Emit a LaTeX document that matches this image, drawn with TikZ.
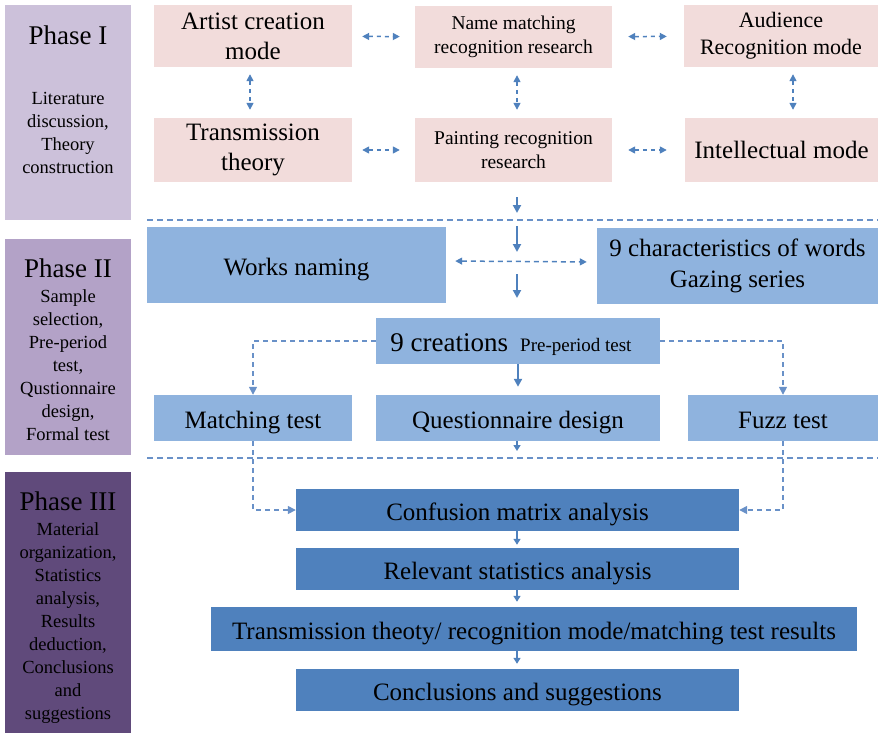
\documentclass[tikz,border=0pt]{standalone}
\usepackage{fontspec}
\setmainfont{Liberation Serif}
\usetikzlibrary{arrows.meta}

\definecolor{phaseone}{RGB}{204,193,218}
\definecolor{phasetwo}{RGB}{179,162,199}
\definecolor{phasethree}{RGB}{96,74,123}
\definecolor{boxpink}{RGB}{242,220,219}
\definecolor{boxlight}{RGB}{143,179,222}
\definecolor{boxdark}{RGB}{79,129,189}
\definecolor{arrowblue}{RGB}{79,129,189}
\definecolor{dashblue}{RGB}{105,145,200}

\begin{document}
\begin{tikzpicture}[
  x=1pt, y=-1pt,
  phase/.style={rectangle, inner sep=0pt, minimum width=126pt},
  phasetitle/.style={font=\fontsize{27}{30}\selectfont, anchor=base},
  phasetext/.style={font=\fontsize{18.5}{23}\selectfont, align=center, anchor=base},
  box/.style={rectangle, inner sep=0pt, align=center, font=\fontsize{25}{30}\selectfont},
  oneline/.style={text height=20pt, text depth=0pt},
  pinkbox/.style={box, fill=boxpink},
  lightbox/.style={box, fill=boxlight},
  darkbox/.style={box, oneline, fill=boxdark, minimum width=443pt, minimum height=42pt},
  arrow/.style={-{Triangle[length=8pt, width=8pt]}, line width=2pt, color=arrowblue},
  smallarrow/.style={-{Triangle[length=6pt, width=7pt]}, line width=1.5pt, color=arrowblue},
  dasharrow/.style={-{Triangle[length=8pt, width=8pt]}, line width=1.5pt, color=dashblue, dash pattern=on 5pt off 4pt},
  twoway/.style={{Triangle[length=7pt, width=7pt]}-{Triangle[length=7pt, width=7pt]}, line width=1.5pt, color=arrowblue, dash pattern=on 4pt off 4pt},
  divider/.style={line width=1.5pt, color=dashblue, dash pattern=on 6pt off 4pt}
]
\useasboundingbox (0,0) rectangle (878,733);

% Phase column
\node[phase, fill=phaseone, minimum height=215pt] (phase-1) at (68,112.5) {};
\node[phase, fill=phasetwo, minimum height=216pt] (phase-2) at (68,347) {};
\node[phase, fill=phasethree, minimum height=261pt] (phase-3) at (68,602.5) {};

% (multi-line text: base = last line)
\node[phasetitle] (phase-1-title) at (68,45) {Phase I};
\node[phasetext] (phase-1-text) at (68,173) {Literature\\discussion,\\Theory\\construction};
\node[phasetitle] (phase-2-title) at (68,277) {Phase II};
\node[phasetext] (phase-2-text) at (68,440) {Sample\\selection,\\Pre-period\\test,\\Qustionnaire\\design,\\Formal test};
\node[phasetitle] (phase-3-title) at (68,510) {Phase III};
\node[phasetext] (phase-3-text) at (68,719) {Material\\organization,\\Statistics\\analysis,\\Results\\deduction,\\Conclusions\\and\\suggestions};

% Phase I - theory boxes
\node[pinkbox, minimum width=198pt, minimum height=62pt] (artist) at (253,36) {Artist creation\\mode};
\node[pinkbox, minimum width=197pt, minimum height=62pt, font=\fontsize{19.5}{24}\selectfont] (name) at (513.5,37) {Name matching\\recognition research};
\node[pinkbox, minimum width=194pt, minimum height=62pt, font=\fontsize{22}{27}\selectfont] (audience) at (781,36) {Audience\\Recognition mode};
\node[pinkbox, minimum width=198pt, minimum height=64pt] (transmission) at (253,150) {Transmission\\theory};
\node[pinkbox, minimum width=197pt, minimum height=64pt, font=\fontsize{19.5}{24}\selectfont] (painting) at (513.5,150) {Painting recognition\\research};
\node[pinkbox, minimum width=193pt, minimum height=64pt] (intellectual) at (781.5,150) {Intellectual mode};

\coordinate (left-x) at (250,0);
\coordinate (mid-x) at (517,0);
\coordinate (right-x) at (793,0);

% Phase I - links
\draw[twoway, shorten <=10pt, shorten >=15pt] (artist) -- (name);
\draw[twoway, shorten <=16pt, shorten >=17pt] (name) -- (audience);
\draw[twoway, shorten <=10pt, shorten >=15pt] (transmission) -- (painting);
\draw[twoway, shorten <=16pt, shorten >=18pt] (painting) -- (intellectual);
\draw[twoway, shorten <=7pt, shorten >=8pt] (artist.south -| left-x) -- (transmission.north -| left-x);
\draw[twoway, shorten <=7pt, shorten >=8pt] (name.south -| mid-x) -- (painting.north -| mid-x);
\draw[twoway, shorten <=7pt, shorten >=8pt] (audience.south -| right-x) -- (intellectual.north -| right-x);

% Down to Phase II
\coordinate (drop-1) at (517,213);
\coordinate (drop-2) at (517,226);
\coordinate (drop-3) at (517,252);
\coordinate (drop-4) at (517,274);
\coordinate (drop-5) at (517,298);
\draw[arrow, shorten <=15pt] (painting.south -| mid-x) -- (drop-1);
\draw[arrow] (drop-2) -- (drop-3);
\draw[arrow] (drop-4) -- (drop-5);

\draw[divider] (147,220) -- (878,220);

% Phase II - sample boxes
\node[lightbox, oneline, minimum width=299pt, minimum height=76pt] (works) at (296.5,265) {Works naming};
\node[lightbox, minimum width=281pt, minimum height=76pt, font=\fontsize{25}{31}\selectfont] (characteristics) at (737.5,266) {9 characteristics of words\\Gazing series};
\node[lightbox, oneline, minimum width=284pt, minimum height=46pt] (creations) at (518,341) {{\fontsize{27}{30}\selectfont 9 creations}\hspace{12pt}{\fontsize{19}{22}\selectfont Pre-period test}\hspace{14pt}};
\node[lightbox, oneline, minimum width=198pt, minimum height=46pt] (matching) at (253,418) {Matching test};
\node[lightbox, oneline, minimum width=284pt, minimum height=46pt] (questionnaire) at (518,418) {Questionnaire design};
\node[lightbox, oneline, minimum width=190pt, minimum height=46pt] (fuzz) at (783,418) {Fuzz test};

% Phase II - links
\draw[twoway, dash pattern=on 5pt off 4pt, shorten <=9pt, shorten >=10pt] ([yshift=4pt]works.east) -- ([yshift=4pt]characteristics.west);
\draw[arrow, shorten >=8pt] (creations) -- (questionnaire);
\draw[dasharrow] (creations.west) -| (matching.north);
\draw[dasharrow] (creations.east) -| (fuzz.north);
\coordinate (stub) at (517,451);
\draw[smallarrow] (questionnaire.south -| mid-x) -- (stub);

\draw[divider] (147,458) -- (878,458);

% Phase III - analysis boxes
\node[darkbox] (confusion) at (517.5,510) {Confusion matrix analysis};
\node[darkbox] (relevant) at (517.5,569) {Relevant statistics analysis};
\node[darkbox, minimum width=646pt, minimum height=44pt] (results) at (534,629) {Transmission theoty/ recognition mode/matching test results};
\node[darkbox] (conclusions) at (517.5,690) {Conclusions and suggestions};

% Phase III - links
\draw[dasharrow] (matching.south) |- (confusion.west);
\draw[dasharrow] (fuzz.south) |- (confusion.east);
\draw[smallarrow, shorten >=3pt] (confusion.south -| mid-x) -- (relevant.north -| mid-x);
\draw[smallarrow, shorten >=5pt] (relevant.south -| mid-x) -- (results.north -| mid-x);
\draw[smallarrow, shorten >=5pt] (results.south -| mid-x) -- (conclusions.north -| mid-x);

\end{tikzpicture}
\end{document}
